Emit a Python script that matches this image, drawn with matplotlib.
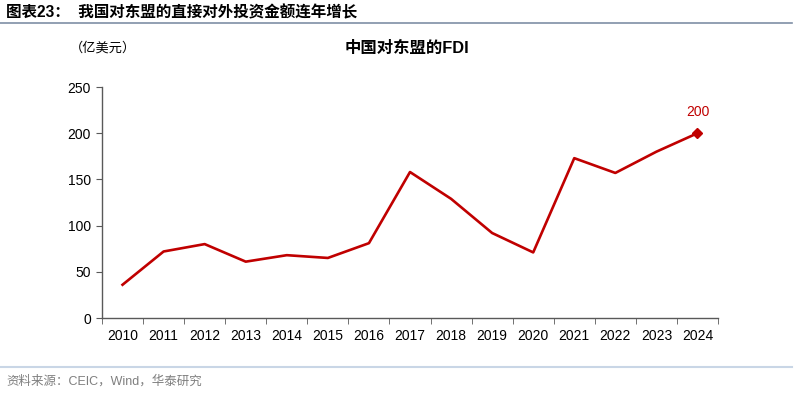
import numpy as np
import matplotlib.pyplot as plt
import matplotlib as mpl
from matplotlib.lines import Line2D

# ---------- 字体设置 ----------
mpl.rcParams['font.family'] = ['Liberation Sans', 'Noto Sans CJK SC', 'DejaVu Sans']
mpl.rcParams['axes.unicode_minus'] = False

# ---------- 数据 ----------
years = ['2010', '2011', '2012', '2013', '2014', '2015', '2016', '2017',
         '2018', '2019', '2020', '2021', '2022', '2023', '2024']
fdi = [36, 72, 80, 61, 68, 65, 81, 158, 129, 92, 71, 173, 157, 180, 200]

line_color = '#C00000'

fig = plt.figure(figsize=(8.0, 3.93), dpi=100)
ax = fig.add_axes([0.1275, 0.1908, 0.77, 0.5878])

x = np.arange(len(years))
ax.plot(x, fdi, color=line_color, lw=1.9)
ax.plot(x[-1], fdi[-1], marker='D', color=line_color, ms=5)
ax.annotate(str(fdi[-1]), (x[-1], fdi[-1]), xytext=(0, 10), textcoords='offset points',
            ha='center', va='bottom', color=line_color, fontsize=10)

ax.set_xlim(-0.5, len(years) - 0.5)
ax.set_ylim(0, 250)
ax.set_yticks([0, 50, 100, 150, 200, 250])
ax.set_xticks(x)
ax.set_xticklabels(years)
ax.set_xticks(np.arange(-0.5, len(years), 1), minor=True)
ax.tick_params(axis='x', which='major', length=0, pad=8, labelsize=10, colors='#000000')
ax.tick_params(axis='x', which='minor', length=4, direction='out', color='#595959')
ax.tick_params(axis='y', length=4, direction='out', color='#595959', labelsize=10, pad=4)

for s in ['top', 'right']:
    ax.spines[s].set_visible(False)
for s in ['left', 'bottom']:
    ax.spines[s].set_color('#595959')
    ax.spines[s].set_linewidth(1)

# ---------- 标题与注释 ----------
fig.text(0.008, 0.967, '图表23：  我国对东盟的直接对外投资金额连年增长', fontsize=11.2,
         fontweight='bold', ha='left', va='center', color='#000000')
fig.add_artist(Line2D([0.0, 0.99], [0.942, 0.942], color='#7F8FA6', lw=1.2))

fig.text(0.087, 0.878, '（亿美元）', fontsize=9.5, ha='left', va='center', color='#000000',
         family=['Noto Sans CJK SC'])
fig.text(0.509, 0.878, '中国对东盟的FDI', fontsize=11.8, fontweight='bold', ha='center',
         va='center', color='#000000')

fig.add_artist(Line2D([0.0, 0.99], [0.066, 0.066], color='#C9D6E6', lw=1.5))
fig.text(0.008, 0.030, '资料来源：CEIC，Wind，华泰研究', fontsize=9, ha='left', va='center',
         color='#7F7F7F')

fig.savefig('out.png', dpi=100, facecolor='white')
